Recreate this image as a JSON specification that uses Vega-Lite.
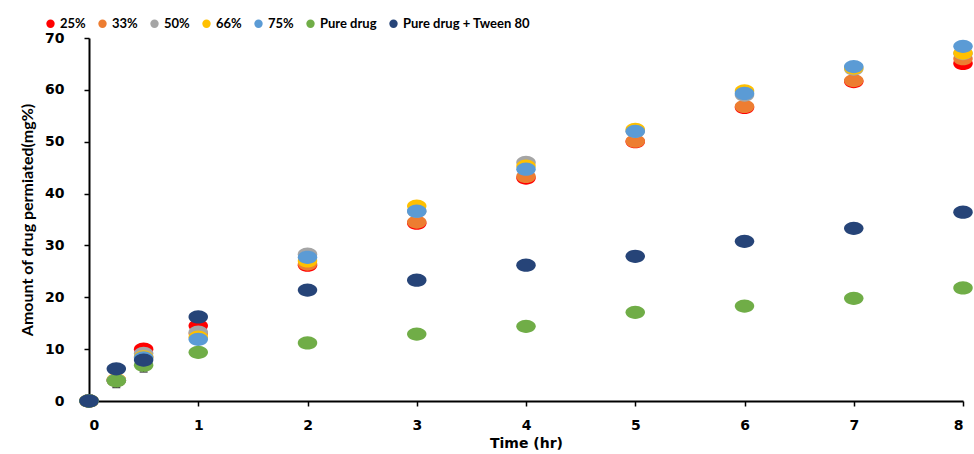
{
  "$schema": "https://vega.github.io/schema/vega-lite/v6.json",
  "width": 874,
  "height": 363,
  "autosize": {"type": "none"},
  "padding": {"left": 89, "top": 38, "right": 11, "bottom": 53},
  "background": "white",
  "config": {"view": {"stroke": null}},
  "datasets": {
    "pts": [
      {"t": 0, "s": "25%", "v": 0}, {"t": 0.25, "s": "25%", "v": 4.0}, {"t": 0.5, "s": "25%", "v": 10.0}, {"t": 1, "s": "25%", "v": 14.5}, {"t": 2, "s": "25%", "v": 26.2}, {"t": 3, "s": "25%", "v": 34.3}, {"t": 4, "s": "25%", "v": 43.0}, {"t": 5, "s": "25%", "v": 50.0}, {"t": 6, "s": "25%", "v": 56.6}, {"t": 7, "s": "25%", "v": 61.6}, {"t": 8, "s": "25%", "v": 65.1},
      {"t": 0, "s": "33%", "v": 0}, {"t": 0.25, "s": "33%", "v": 4.0}, {"t": 0.5, "s": "33%", "v": 8.5}, {"t": 1, "s": "33%", "v": 13.0}, {"t": 2, "s": "33%", "v": 26.4}, {"t": 3, "s": "33%", "v": 34.5}, {"t": 4, "s": "33%", "v": 43.3}, {"t": 5, "s": "33%", "v": 50.1}, {"t": 6, "s": "33%", "v": 56.8}, {"t": 7, "s": "33%", "v": 61.8}, {"t": 8, "s": "33%", "v": 66.0},
      {"t": 0, "s": "50%", "v": 0}, {"t": 0.25, "s": "50%", "v": 4.0}, {"t": 0.5, "s": "50%", "v": 9.2}, {"t": 1, "s": "50%", "v": 13.3}, {"t": 2, "s": "50%", "v": 28.3}, {"t": 3, "s": "50%", "v": 36.6}, {"t": 4, "s": "50%", "v": 46.0}, {"t": 5, "s": "50%", "v": 52.0}, {"t": 6, "s": "50%", "v": 59.0}, {"t": 7, "s": "50%", "v": 64.0}, {"t": 8, "s": "50%", "v": 67.0},
      {"t": 0, "s": "66%", "v": 0}, {"t": 0.25, "s": "66%", "v": 4.1}, {"t": 0.5, "s": "66%", "v": 8.5}, {"t": 1, "s": "66%", "v": 12.3}, {"t": 2, "s": "66%", "v": 27.0}, {"t": 3, "s": "66%", "v": 37.6}, {"t": 4, "s": "66%", "v": 45.3}, {"t": 5, "s": "66%", "v": 52.4}, {"t": 6, "s": "66%", "v": 59.8}, {"t": 7, "s": "66%", "v": 64.2}, {"t": 8, "s": "66%", "v": 67.1},
      {"t": 0, "s": "75%", "v": 0}, {"t": 0.25, "s": "75%", "v": 4.0}, {"t": 0.5, "s": "75%", "v": 8.3}, {"t": 1, "s": "75%", "v": 11.9}, {"t": 2, "s": "75%", "v": 27.7}, {"t": 3, "s": "75%", "v": 36.6}, {"t": 4, "s": "75%", "v": 44.7}, {"t": 5, "s": "75%", "v": 52.0}, {"t": 6, "s": "75%", "v": 59.3}, {"t": 7, "s": "75%", "v": 64.5}, {"t": 8, "s": "75%", "v": 68.4},
      {"t": 0, "s": "Pure drug", "v": 0}, {"t": 0.25, "s": "Pure drug", "v": 3.9}, {"t": 0.5, "s": "Pure drug", "v": 6.9}, {"t": 1, "s": "Pure drug", "v": 9.4}, {"t": 2, "s": "Pure drug", "v": 11.2}, {"t": 3, "s": "Pure drug", "v": 12.9}, {"t": 4, "s": "Pure drug", "v": 14.4}, {"t": 5, "s": "Pure drug", "v": 17.1}, {"t": 6, "s": "Pure drug", "v": 18.3}, {"t": 7, "s": "Pure drug", "v": 19.8}, {"t": 8, "s": "Pure drug", "v": 21.8},
      {"t": 0, "s": "Pure drug + Tween 80", "v": 0}, {"t": 0.25, "s": "Pure drug + Tween 80", "v": 6.2}, {"t": 0.5, "s": "Pure drug + Tween 80", "v": 7.9}, {"t": 1, "s": "Pure drug + Tween 80", "v": 16.2}, {"t": 2, "s": "Pure drug + Tween 80", "v": 21.4}, {"t": 3, "s": "Pure drug + Tween 80", "v": 23.3}, {"t": 4, "s": "Pure drug + Tween 80", "v": 26.2}, {"t": 5, "s": "Pure drug + Tween 80", "v": 27.9}, {"t": 6, "s": "Pure drug + Tween 80", "v": 30.8}, {"t": 7, "s": "Pure drug + Tween 80", "v": 33.3}, {"t": 8, "s": "Pure drug + Tween 80", "v": 36.4}
    ],
    "errs": [
      {"t": 0.25, "lo": 2.6, "hi": 3.9},
      {"t": 0.5, "lo": 5.6, "hi": 6.9},
      {"t": 4, "lo": 42.0, "hi": 43.0}
    ]
  },
  "layer": [
    {
      "data": {"name": "errs"},
      "mark": {"type": "rule", "color": "black", "strokeWidth": 1},
      "encoding": {
        "x": {"field": "t", "type": "quantitative", "scale": {"domain": [0, 8]}},
        "y": {"field": "lo", "type": "quantitative", "scale": {"domain": [0, 70]}},
        "y2": {"field": "hi"}
      }
    },
    {
      "data": {"name": "errs"},
      "mark": {"type": "tick", "color": "black", "orient": "horizontal", "size": 8, "thickness": 1.5},
      "encoding": {
        "x": {"field": "t", "type": "quantitative"},
        "y": {"field": "lo", "type": "quantitative"}
      }
    },
    {
      "data": {"name": "pts"},
      "mark": {"type": "point", "filled": true, "opacity": 1, "shape": "M -1 0 A 1 0.68 0 1 0 1 0 A 1 0.68 0 1 0 -1 0 Z", "size": 380},
      "encoding": {
        "x": {
          "field": "t", "type": "quantitative",
          "scale": {"domain": [0, 8], "nice": false, "zero": true},
          "axis": {
            "title": "Time (hr)", "values": [0, 1, 2, 3, 4, 5, 6, 7, 8], "format": "d", "grid": false,
            "domainColor": "black", "domainWidth": 2, "tickColor": "black", "tickSize": 5, "tickWidth": 1.5,
            "labelFont": "DejaVu Sans", "labelFontWeight": "bold", "labelFontSize": 14, "labelColor": "black", "labelPadding": 12,
            "titleFont": "DejaVu Sans", "titleFontWeight": "bold", "titleFontSize": 14, "titleColor": "black", "titlePadding": 4
          }
        },
        "y": {
          "field": "v", "type": "quantitative",
          "scale": {"domain": [0, 70], "nice": false},
          "axis": {
            "title": "Amount of drug permiated(mg%)", "values": [0, 10, 20, 30, 40, 50, 60, 70], "format": "d", "grid": false,
            "domainColor": "black", "domainWidth": 2, "tickColor": "black", "tickSize": 5, "tickWidth": 1.5,
            "labelFont": "DejaVu Sans", "labelFontWeight": "bold", "labelFontSize": 14, "labelColor": "black", "labelPadding": 20,
            "titleFont": "Lato", "titleFontWeight": "bold", "titleFontSize": 16, "titleColor": "black", "titlePadding": 9
          }
        },
        "color": {
          "field": "s", "type": "nominal",
          "scale": {
            "domain": ["25%", "33%", "50%", "66%", "75%", "Pure drug", "Pure drug + Tween 80"],
            "range": ["#FF0000", "#ED7D31", "#A5A5A5", "#FFC000", "#5B9BD5", "#70AD47", "#264478"]
          },
          "legend": {
            "title": null, "orient": "none", "direction": "horizontal", "columns": 7,
            "legendX": -45, "legendY": -21,
            "symbolType": "circle", "symbolSize": 70, "symbolOpacity": 1,
            "labelFont": "Lato", "labelFontWeight": "bold", "labelFontSize": 13, "labelColor": "black", "labelLimit": 400,
            "labelOffset": 3, "columnPadding": 10
          }
        }
      }
    }
  ]
}
